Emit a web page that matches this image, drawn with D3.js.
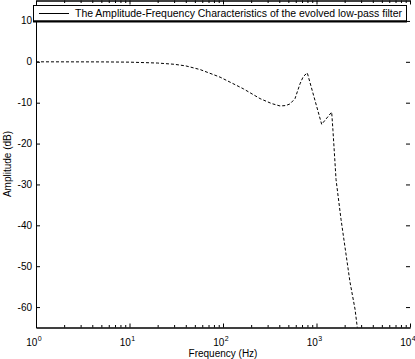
<!DOCTYPE html>
<html>
<head>
<meta charset="utf-8">
<script src="https://cdn.jsdelivr.net/npm/d3@7"></script>
<style>
	html, body { margin: 0; padding: 0; background: #fff; }
	svg { display: block; }
	text { font-family: "Liberation Sans", Arial, sans-serif; fill: #000; }
</style>
</head>
<body>
<div id="chart"></div>
<script>
// values
var freqHz = [1, 5, 10, 20, 30, 40, 57, 93, 165, 249, 330, 407, 470, 521, 589, 666, 722, 797,
	1136, 1453, 1500, 1618, 1828, 2282, 2582, 2731, 2900];
var amplitudeDb = [0, -0.02, -0.08, -0.3, -0.6, -1.0, -1.9, -3.75, -6.6, -9.0, -10.2, -10.8, -10.7, -10.3, -9.0, -5.4, -3.6, -2.7,
	-15.3, -12.3, -16.8, -28.8, -38.5, -53.9, -60.5, -65, -70];
var xDecades = [0, 1, 2, 3, 4];
var yTicks = [-60, -50, -40, -30, -20, -10, 0, 10];
var legendLabel = "The Amplitude-Frequency Characteristics of the evolved low-pass filter";
var xTitle = "Frequency (Hz)";
var yTitle = "Amplitude (dB)";

(function () {
	var width = 415, height = 359;
	var left = 36, right = 410, top = 0.5, bottom = 327.5;

	var svg = d3.select("#chart").append("svg")
		.attr("width", width)
		.attr("height", height);

	var x = d3.scaleLog().domain([1, 1e4]).range([left, right]);
	var y = d3.scaleLinear().domain([-65, 15]).range([bottom, top]);

	var majors = xDecades.map(function (d) { return Math.pow(10, d); });
	var minors = x.ticks().filter(function (d) { return majors.indexOf(d) < 0; });

	svg.append("clipPath").attr("id", "plot-clip")
		.append("rect")
		.attr("x", left).attr("y", top)
		.attr("width", right - left).attr("height", bottom - top);

	// curve
	var line = d3.line()
		.x(function (d, i) { return x(freqHz[i]); })
		.y(function (d) { return y(d); });

	svg.append("path")
		.datum(amplitudeDb)
		.attr("clip-path", "url(#plot-clip)")
		.attr("d", line)
		.attr("fill", "none")
		.attr("stroke", "#000")
		.attr("stroke-width", 1)
		.attr("stroke-dasharray", "3,2");

	// axes, ticks pointing inwards
	function styleAxis(g) {
		g.selectAll("line").attr("stroke", "#000");
		g.selectAll("text").remove();
		g.select(".domain").attr("stroke", "#000");
	}

	svg.append("g")
		.attr("transform", "translate(0," + bottom + ")")
		.call(d3.axisBottom(x).tickValues(majors).tickSizeInner(-4).tickSizeOuter(0))
		.call(styleAxis);
	svg.append("g")
		.attr("transform", "translate(0," + bottom + ")")
		.call(d3.axisBottom(x).tickValues(minors).tickSizeInner(-2.5).tickSizeOuter(0))
		.call(styleAxis);
	svg.append("g")
		.attr("transform", "translate(0," + top + ")")
		.call(d3.axisTop(x).tickValues(majors).tickSizeInner(-4).tickSizeOuter(0))
		.call(styleAxis);
	svg.append("g")
		.attr("transform", "translate(0," + top + ")")
		.call(d3.axisTop(x).tickValues(minors).tickSizeInner(-2.5).tickSizeOuter(0))
		.call(styleAxis);

	svg.append("g")
		.attr("transform", "translate(" + left + ",0)")
		.call(d3.axisLeft(y).tickValues(yTicks).tickSizeInner(-4).tickSizeOuter(0))
		.call(styleAxis);
	svg.append("g")
		.attr("transform", "translate(" + right + ",0)")
		.call(d3.axisRight(y).tickValues(yTicks).tickSizeInner(-4).tickSizeOuter(0))
		.call(styleAxis)
		.select(".domain").remove();

	// y tick labels
	svg.append("g").selectAll("text")
		.data(yTicks)
		.enter().append("text")
		.attr("x", left - 4)
		.attr("y", function (d) { return y(d) + 3.5; })
		.attr("text-anchor", "end")
		.style("font-size", "10px")
		.text(function (d) { return d; });

	// x tick labels 10^n
	var xl = svg.append("g").selectAll("text")
		.data(xDecades)
		.enter().append("text")
		.attr("x", function (d) { return x(Math.pow(10, d)) - 2; })
		.attr("y", bottom + 18)
		.attr("text-anchor", "middle")
		.style("font-size", "10px");
	xl.append("tspan").text("10");
	xl.append("tspan")
		.attr("dx", 0.5)
		.attr("dy", -5)
		.style("font-size", "7px")
		.text(function (d) { return d; });

	// axis titles
	svg.append("text")
		.attr("x", (left + right) / 2)
		.attr("y", 357)
		.attr("text-anchor", "middle")
		.style("font-size", "10px")
		.text(xTitle);

	svg.append("text")
		.attr("transform", "translate(11," + ((top + bottom) / 2) + ") rotate(-90)")
		.attr("text-anchor", "middle")
		.style("font-size", "10px")
		.text(yTitle);

	// legend
	var legend = svg.append("g");
	legend.append("rect")
		.attr("x", 33.5).attr("y", 5.5)
		.attr("width", 373).attr("height", 15.5)
		.attr("fill", "#fff")
		.attr("stroke", "#000");
	legend.append("line")
		.attr("x1", 33).attr("x2", 407)
		.attr("y1", 21.5).attr("y2", 21.5)
		.attr("stroke", "#000").attr("stroke-width", 2);
	legend.append("line")
		.attr("x1", 39).attr("x2", 69)
		.attr("y1", 13.5).attr("y2", 13.5)
		.attr("stroke", "#000");
	legend.append("text")
		.attr("x", 75)
		.attr("y", 17)
		.attr("textLength", 327)
		.attr("lengthAdjust", "spacingAndGlyphs")
		.style("font-size", "10px")
		.text(legendLabel);
})();
</script>
</body>
</html>
